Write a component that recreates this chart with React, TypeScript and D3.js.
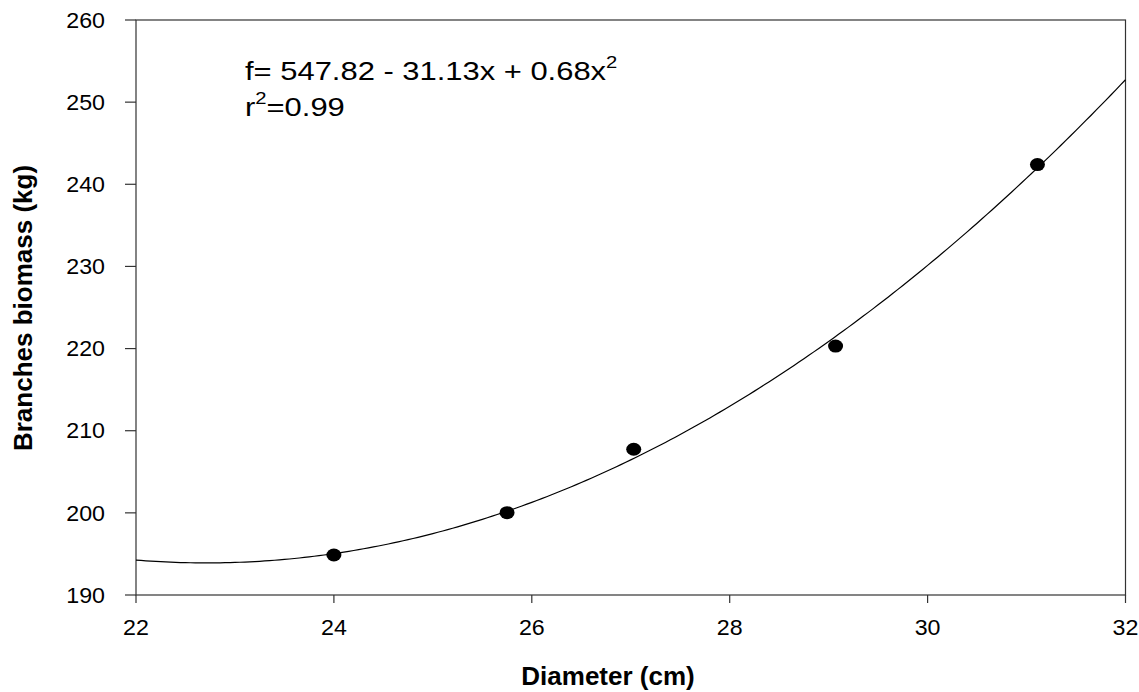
import React from "react";
import * as d3 from "d3";

const diameters = [24.0, 25.75, 27.03, 29.07, 31.11];
const biomass = [194.87, 200.02, 207.74, 220.3, 242.4];
const xTicks = [22, 24, 26, 28, 30, 32];
const yTicks = [190, 200, 210, 220, 230, 240, 250, 260];

// least-squares quadratic fit from the data
function quadFit(xs: number[], ys: number[]) {
  const s = (f: (x: number, y: number) => number) => xs.reduce((acc, x, i) => acc + f(x, ys[i]), 0);
  const n = xs.length;
  const S1 = s((x) => x), S2 = s((x) => x * x), S3 = s((x) => x ** 3), S4 = s((x) => x ** 4);
  const Y = s((x, y) => y), XY = s((x, y) => x * y), X2Y = s((x, y) => x * x * y);
  const M = [
    [n, S1, S2, Y],
    [S1, S2, S3, XY],
    [S2, S3, S4, X2Y],
  ];
  for (let i = 0; i < 3; i++) {
    for (let k = i + 1; k < 3; k++) {
      const f = M[k][i] / M[i][i];
      for (let j = i; j < 4; j++) M[k][j] -= f * M[i][j];
    }
  }
  const c = [0, 0, 0];
  for (let i = 2; i >= 0; i--) {
    let v = M[i][3];
    for (let j = i + 1; j < 3; j++) v -= M[i][j] * c[j];
    c[i] = v / M[i][i];
  }
  return c;
}

export default function App() {
  const W = 1139, H = 692;
  const L = 136, R = 1125.5, T = 20, B = 595;
  const x = d3.scaleLinear().domain([22, 32]).range([L, R]);
  const y = d3.scaleLinear().domain([190, 260]).range([B, T]);
  const coef = quadFit(diameters, biomass);
  const curvePts = d3.range(22, 32.0001, 0.05).map((v) => [v, coef[0] + coef[1] * v + coef[2] * v * v] as [number, number]);
  const line = d3.line<[number, number]>().x((d) => x(d[0])).y((d) => y(d[1])).curve(d3.curveLinear);
  const font = "'Liberation Sans', Arial, sans-serif";
  const axisColor = "#333";
  return (
    <svg width={W} height={H} style={{ position: "absolute", left: 0, top: 0 }} fontFamily={font}>
      <rect x={0} y={0} width={W} height={H} fill="#fff" />
      {/* frame */}
      <rect x={L} y={T} width={R - L} height={B - T} fill="none" stroke={axisColor} strokeWidth={1.2} />
      {/* y ticks */}
      {yTicks.map((t) => (
        <g key={"y" + t}>
          <line x1={L - 11} x2={L} y1={y(t)} y2={y(t)} stroke={axisColor} strokeWidth={1.2} />
          <g transform={`translate(105,${y(t)}) scale(1.08,1)`}>
            <text x={0} y={0} dy="0.36em" textAnchor="end" fontSize={21.5} fill="#000">
              {t}
            </text>
          </g>
        </g>
      ))}
      {/* x ticks */}
      {xTicks.map((t) => (
        <g key={"x" + t}>
          <line x1={x(t)} x2={x(t)} y1={B} y2={B + 8} stroke={axisColor} strokeWidth={1.2} />
          <g transform={`translate(${x(t)},635) scale(1.08,1)`}>
            <text x={0} y={0} textAnchor="middle" fontSize={21.5} fill="#000">
              {t}
            </text>
          </g>
        </g>
      ))}
      {/* fit curve */}
      <path d={line(curvePts) || ""} fill="none" stroke="#000" strokeWidth={1.2} />
      {/* points */}
      {diameters.map((d, i) => (
        <ellipse key={i} cx={x(d)} cy={y(biomass[i])} rx={7.5} ry={6.5} fill="#000" />
      ))}
      {/* equation */}
      <g transform="translate(245,0) scale(1.19,1)">
        <text x={0} y={80} fontSize={26} fill="#000">
          f= 547.82 - 31.13x + 0.68x<tspan fontSize={17} dy={-12}>2</tspan>
        </text>
        <text x={0} y={116} fontSize={26} fill="#000">
          r<tspan fontSize={17} dy={-12}>2</tspan>
          <tspan dy={12}>=0.99</tspan>
        </text>
      </g>
      {/* axis titles */}
      <text x={608} y={685} textAnchor="middle" fontSize={26} fontWeight="bold" fill="#000">
        Diameter (cm)
      </text>
      <text transform={`translate(32,${308}) rotate(-90)`} textAnchor="middle" fontSize={26} fontWeight="bold" fill="#000">
        Branches biomass (kg)
      </text>
    </svg>
  );
}
